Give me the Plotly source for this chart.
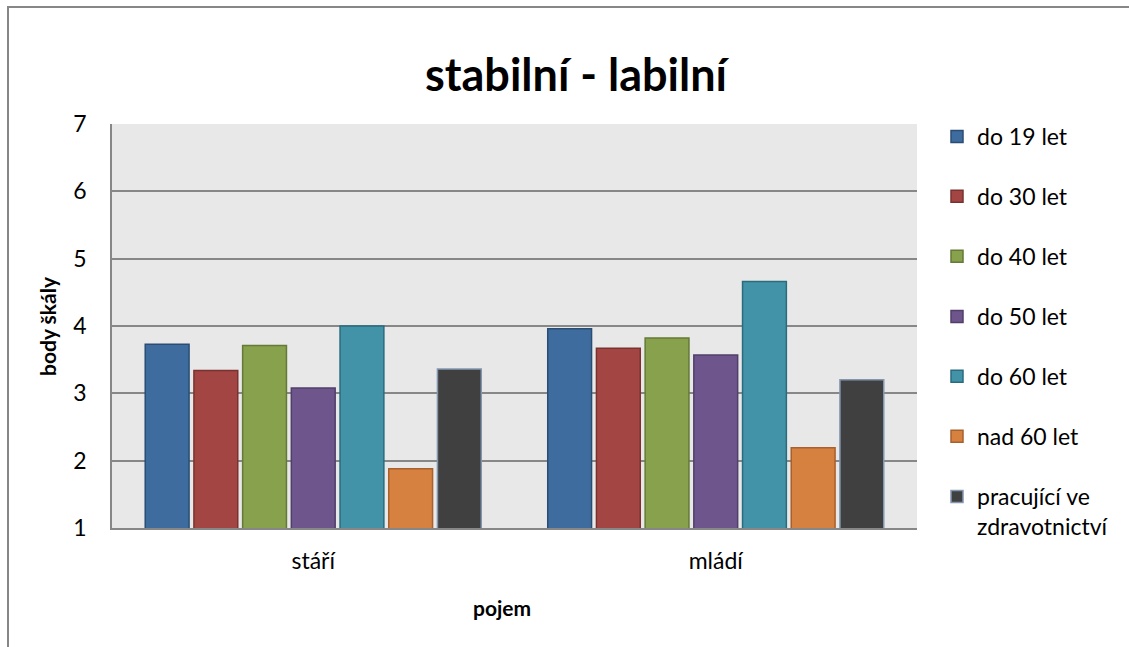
import plotly.graph_objects as go

# Chart data
categories = ["stáří", "mládí"]
series_names = ["do 19 let", "do 30 let", "do 40 let", "do 50 let", "do 60 let",
                "nad 60 let", "pracující ve<br>zdravotnictví"]
do_19 = [3.73, 3.96]
do_30 = [3.34, 3.67]
do_40 = [3.71, 3.82]
do_50 = [3.08, 3.57]
do_60 = [4.00, 4.66]
nad_60 = [1.88, 2.19]
zdravotnictvi = [3.36, 3.20]
y_ticks = [1, 2, 3, 4, 5, 6, 7]

series_values = [do_19, do_30, do_40, do_50, do_60, nad_60, zdravotnictvi]
fills = ["#3E6C9E", "#A34542", "#88A14D", "#6E568D", "#4293A8", "#D68140", "#404040"]
edges = ["#2B4D74", "#7A3230", "#647A36", "#513F69", "#2A6C7E", "#A8602C", "#8497B0"]
# the legend column is split into three stacked boxes so none of them scrolls
legend_ids = ["legend"] * 3 + ["legend2"] * 3 + ["legend3"]

W, H = 1129, 647
ML, MR, MT, MB = 112, 212, 124, 119
PW, PH = W - ML - MR, H - MT - MB
FONT = "Lato"
LEG_FONT = 23


def px_x(x):
    return (x - ML) / PW


def px_y(y):
    return (H - MB - y) / PH


fig = go.Figure()
for name, vals, fc, ec, lg in zip(series_names, series_values, fills, edges, legend_ids):
    fig.add_trace(go.Bar(
        x=categories, y=vals, name=name, legendgroup=name, legend=lg,
        marker=dict(color=fc, line=dict(color=ec, width=1.5)),
    ))

legend_common = dict(x=px_x(937), xanchor="left", yanchor="top",
                     font=dict(family=FONT, size=LEG_FONT, color="#000000"),
                     tracegroupgap=27, valign="top", bgcolor="rgba(0,0,0,0)")

fig.update_layout(
    width=W, height=H,
    margin=dict(l=ML, r=MR, t=MT, b=MB),
    paper_bgcolor="white",
    plot_bgcolor="#E8E8E8",
    barmode="group",
    bargap=0.153,
    bargroupgap=0.1,
    font=dict(family=FONT, size=23, color="#000000"),
    title=dict(text="<b>stabilní - labilní</b>", x=576 / W, xanchor="center",
               y=1 - 75 / H, yanchor="middle",
               font=dict(family=FONT, size=45, color="#000000")),
    legend=dict(y=px_y(115), **legend_common),
    legend2=dict(y=px_y(295), **legend_common),
    legend3=dict(y=px_y(475), **legend_common),
    showlegend=True,
)

fig.update_yaxes(range=[1, 7], tickvals=y_ticks, showgrid=True, gridcolor="#878787",
                 gridwidth=1.5, showline=True, linecolor="#878787", linewidth=1.5,
                 zeroline=False, ticks="", ticklabelstandoff=19,
                 tickfont=dict(family=FONT, size=23))
fig.update_xaxes(showline=True, linecolor="#878787", linewidth=1.5, ticks="",
                 ticklabelstandoff=12, tickfont=dict(family=FONT, size=23))

# Axis titles
fig.add_annotation(text="<b>body škály</b>", textangle=-90, x=px_x(47), y=px_y(326),
                   xref="paper", yref="paper", xanchor="center", yanchor="middle",
                   showarrow=False, font=dict(family=FONT, size=21))
fig.add_annotation(text="<b>pojem</b>", x=px_x(502), y=px_y(607),
                   xref="paper", yref="paper", xanchor="center", yanchor="middle",
                   showarrow=False, font=dict(family=FONT, size=21))

# Chart frame
fig.add_shape(type="line", xref="paper", yref="paper", x0=px_x(8), x1=px_x(8),
              y0=px_y(660), y1=px_y(7), line=dict(color="#878787", width=2))
fig.add_shape(type="line", xref="paper", yref="paper", x0=px_x(7), x1=px_x(1135),
              y0=px_y(7), y1=px_y(7), line=dict(color="#878787", width=2))

fig.write_html("out.html", config={"displayModeBar": False})
